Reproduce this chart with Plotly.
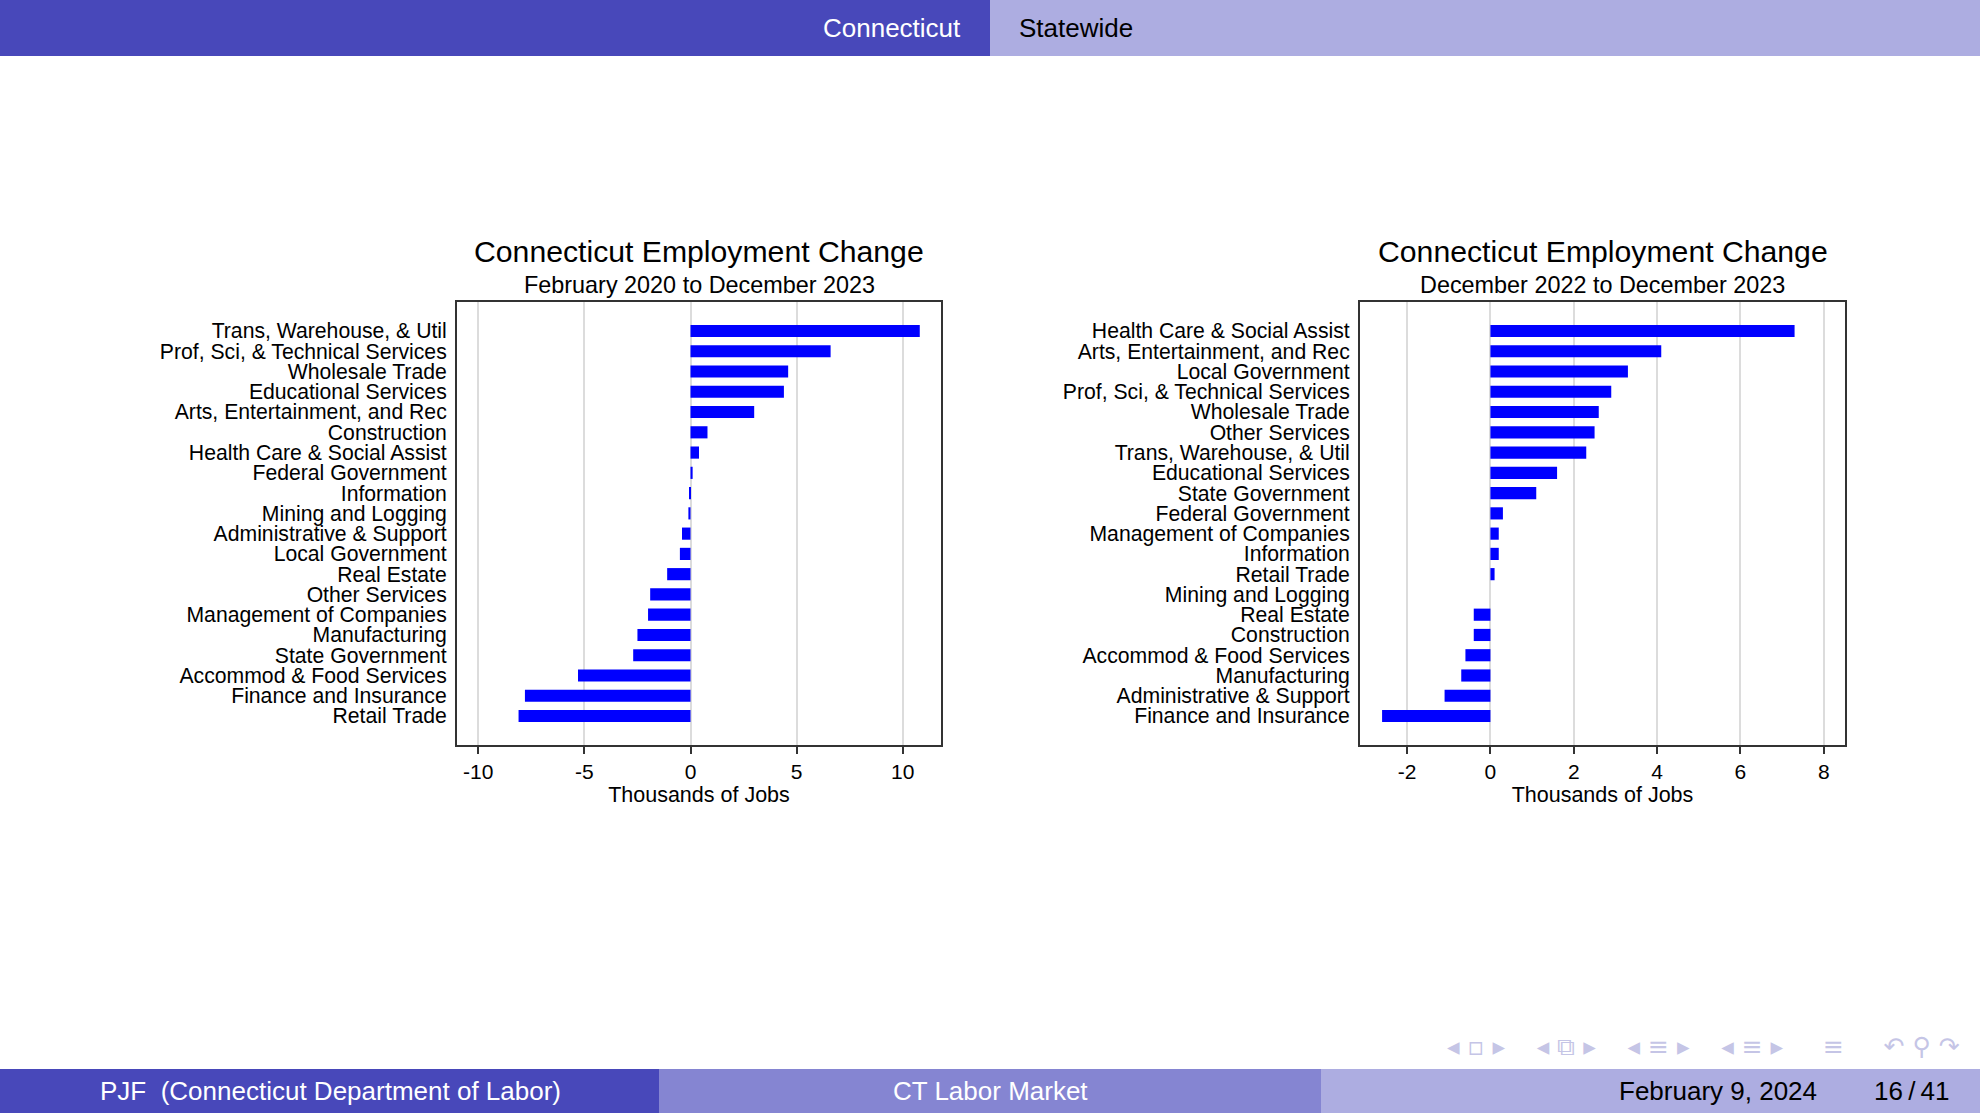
import plotly.graph_objects as go

W, H = 1980, 1113

# ---------------- data ----------------
left_title = "Connecticut Employment Change"
left_subtitle = "February 2020 to December 2023"
left_categories = [
    "Trans, Warehouse, & Util", "Prof, Sci, & Technical Services", "Wholesale Trade",
    "Educational Services", "Arts, Entertainment, and Rec", "Construction",
    "Health Care & Social Assist", "Federal Government", "Information",
    "Mining and Logging", "Administrative & Support", "Local Government",
    "Real Estate", "Other Services", "Management of Companies", "Manufacturing",
    "State Government", "Accommod & Food Services", "Finance and Insurance",
    "Retail Trade",
]
left_values = [10.8, 6.6, 4.6, 4.4, 3.0, 0.8, 0.4, 0.1, -0.05, -0.1,
               -0.4, -0.5, -1.1, -1.9, -2.0, -2.5, -2.7, -5.3, -7.8, -8.1]
left_ticks = [-10, -5, 0, 5, 10]
left_ticklabels = ["-10", "-5", "0", "5", "10"]

right_title = "Connecticut Employment Change"
right_subtitle = "December 2022 to December 2023"
right_categories = [
    "Health Care & Social Assist", "Arts, Entertainment, and Rec", "Local Government",
    "Prof, Sci, & Technical Services", "Wholesale Trade", "Other Services",
    "Trans, Warehouse, & Util", "Educational Services", "State Government",
    "Federal Government", "Management of Companies", "Information", "Retail Trade",
    "Mining and Logging", "Real Estate", "Construction", "Accommod & Food Services",
    "Manufacturing", "Administrative & Support", "Finance and Insurance",
]
right_values = [7.3, 4.1, 3.3, 2.9, 2.6, 2.5, 2.3, 1.6, 1.1, 0.3,
                0.2, 0.2, 0.1, 0.0, -0.4, -0.4, -0.6, -0.7, -1.1, -2.6]
right_ticks = [-2, 0, 2, 4, 6, 8]
right_ticklabels = ["-2", "0", "2", "4", "6", "8"]

x_title = "Thousands of Jobs"

header_left = "Connecticut"
header_right = "Statewide"
footer_author = "PJF  (Connecticut Department of Labor)"
footer_title = "CT Labor Market"
footer_date = "February 9, 2024"
footer_page = "16\u2009/\u200941"

# ---------------- styling ----------------
FONT = "Liberation Sans, Arial, Helvetica, sans-serif"
DARK = "#4848BA"
MID = "#8585D2"
LIGHT = "#ADADE1"
BAR = "#0000FF"
GRID = "#DCDCDC"


def px_x(p):
    return p / W


def px_y(p):
    return 1 - p / H


fig = go.Figure()

panels = [
    (left_categories, left_values, left_ticks, left_ticklabels, [-11.0, 11.8],
     (457, 941), left_title, left_subtitle, ""),
    (right_categories, right_values, right_ticks, right_ticklabels, [-3.13, 8.51],
     (1360, 1845), right_title, right_subtitle, "2"),
]

plot_top, plot_bot = 302, 745
annotations = []
for cats, vals, ticks, tlabels, xr, (x0, x1), title, sub, sfx in panels:
    fig.add_trace(go.Bar(
        y=list(range(len(cats))), x=vals, orientation="h",
        marker=dict(color=BAR, line=dict(width=0)), width=0.6,
        xaxis="x" + sfx, yaxis="y" + sfx, showlegend=False,
        hoverinfo="x+y",
    ))
    fig.layout["xaxis" + sfx] = dict(
        domain=[px_x(x0), px_x(x1)], range=xr, anchor="y" + sfx,
        tickvals=ticks, ticktext=tlabels, ticks="outside", ticklen=7,
        tickwidth=1.5, tickcolor="#333333",
        showgrid=True, gridcolor=GRID, gridwidth=1.5, zeroline=False,
        showline=True, linecolor="#333333", linewidth=2, mirror=True,
        tickfont=dict(family=FONT, size=21, color="black"),
        title=dict(text=x_title, font=dict(family=FONT, size=21.5, color="black"), standoff=0),
        fixedrange=True,
    )
    fig.layout["yaxis" + sfx] = dict(
        domain=[px_y(plot_bot), px_y(plot_top)], range=[len(cats) - 1 + 1.43, -1.43],
        anchor="x" + sfx, tickvals=list(range(len(cats))), ticktext=cats,
        ticks="", showgrid=False, zeroline=False,
        showline=True, linecolor="#333333", linewidth=2, mirror=True,
        tickfont=dict(family=FONT, size=21.2, color="black"), ticklabelstandoff=4,
        fixedrange=True,
    )
    cx = px_x((x0 + x1) / 2)
    annotations.append(dict(text=title, x=cx, y=px_y(251), xref="paper", yref="paper",
                            showarrow=False, xanchor="center", yanchor="middle",
                            font=dict(family=FONT, size=30.2, color="black")))
    annotations.append(dict(text=sub, x=cx, y=px_y(285), xref="paper", yref="paper",
                            showarrow=False, xanchor="center", yanchor="middle",
                            font=dict(family=FONT, size=23.4, color="black")))

shapes = [
    # header
    dict(type="rect", xref="paper", yref="paper", x0=0, x1=0.5, y0=px_y(56), y1=1,
         fillcolor=DARK, line=dict(width=0), layer="below"),
    dict(type="rect", xref="paper", yref="paper", x0=0.5, x1=1, y0=px_y(56), y1=1,
         fillcolor=LIGHT, line=dict(width=0), layer="below"),
    # footer
    dict(type="rect", xref="paper", yref="paper", x0=0, x1=px_x(659), y0=0, y1=px_y(1069),
         fillcolor=DARK, line=dict(width=0), layer="below"),
    dict(type="rect", xref="paper", yref="paper", x0=px_x(659), x1=px_x(1321), y0=0, y1=px_y(1069),
         fillcolor=MID, line=dict(width=0), layer="below"),
    dict(type="rect", xref="paper", yref="paper", x0=px_x(1321), x1=1, y0=0, y1=px_y(1069),
         fillcolor=LIGHT, line=dict(width=0), layer="below"),
]

hdr_y = px_y(28)
ftr_y = px_y(1091)
annotations += [
    dict(text=header_left, x=px_x(963), y=hdr_y, xanchor="right", yanchor="middle",
         font=dict(family=FONT, size=26, color="white")),
    dict(text=header_right, x=px_x(1017), y=hdr_y, xanchor="left", yanchor="middle",
         font=dict(family=FONT, size=26, color="black")),
    dict(text=footer_author, x=px_x(330), y=ftr_y, xanchor="center", yanchor="middle",
         font=dict(family=FONT, size=26, color="white")),
    dict(text=footer_title, x=px_x(990), y=ftr_y, xanchor="center", yanchor="middle",
         font=dict(family=FONT, size=26, color="white")),
    dict(text=footer_date, x=px_x(1819), y=ftr_y, xanchor="right", yanchor="middle",
         font=dict(family=FONT, size=26, color="black")),
    dict(text=footer_page, x=px_x(1951), y=ftr_y, xanchor="right", yanchor="middle",
         font=dict(family=FONT, size=26, color="black")),
    dict(text="◂ ▫ ▸    ◂ ⧉ ▸    ◂ ≡ ▸    ◂ ≡ ▸     ≡     ↶ ⚲ ↷",
         x=px_x(1962), y=px_y(1046), xanchor="right", yanchor="middle",
         font=dict(family="DejaVu Sans", size=25, color="#C5C5E6")),
]
for a in annotations:
    a.setdefault("xref", "paper")
    a.setdefault("yref", "paper")
    a.setdefault("showarrow", False)

fig.update_layout(
    width=W, height=H, margin=dict(l=0, r=0, t=0, b=0),
    paper_bgcolor="white", plot_bgcolor="white",
    shapes=shapes, annotations=annotations, bargap=0.4,
    font=dict(family=FONT, color="black"),
)

fig.write_html(
    "out.html",
    config={"displayModeBar": False},
    post_script="document.body.style.margin='0px';document.body.style.overflow='hidden';",
)
